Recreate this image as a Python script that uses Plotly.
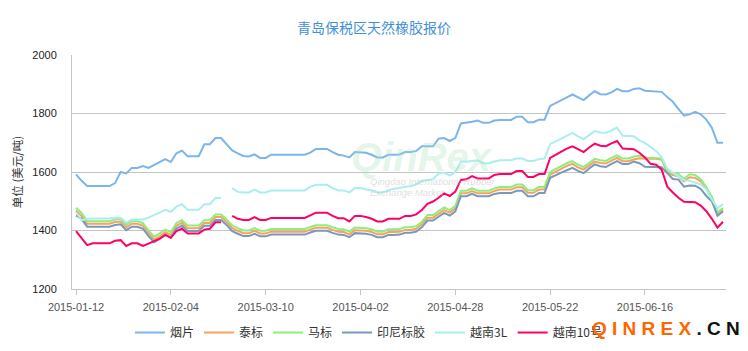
import pandas as pd
import plotly.graph_objects as go

# ---------------- data ----------------
holidays = ["2015-02-18", "2015-02-19", "2015-02-20", "2015-02-23", "2015-02-24",
            "2015-02-25", "2015-02-26", "2015-04-06", "2015-05-01", "2015-06-22"]
dates = [d.strftime("%Y-%m-%d") for d in pd.bdate_range("2015-01-12", "2015-07-07")
         if d.strftime("%Y-%m-%d") not in holidays]

series_names = ["烟片", "泰标", "马标", "印尼标胶", "越南3L", "越南10号"]

yanpian = [
    1592, 1570, 1552, 1552, 1552, 1552, 1552, 1562, 1600, 1595,
    1614, 1614, 1620, 1614, 1624, 1634, 1644, 1634, 1664, 1673,
    1654, 1654, 1654, 1695, 1695, 1716, 1716, 1695, 1674, 1664,
    1655, 1653, 1660, 1648, 1648, 1659, 1659, 1659, 1659, 1659,
    1659, 1659, 1666, 1679, 1679, 1679, 1668, 1659, 1656, 1650,
    1668, 1668, 1666, 1659, 1650, 1650, 1659, 1659, 1660, 1668,
    1668, 1672, 1688, 1688, 1688, 1714, 1716, 1706, 1716, 1766,
    1768, 1772, 1776, 1768, 1768, 1776, 1778, 1778, 1778, 1789,
    1789, 1770, 1770, 1779, 1779, 1826, 1835, 1845, 1855, 1865,
    1855, 1846, 1862, 1876, 1866, 1865, 1872, 1884, 1876, 1876,
    1884, 1886, 1878, 1876, 1876, 1874, 1856, 1840, 1816, 1793,
    1797, 1806, 1797, 1779, 1751, 1700, 1700]

taibiao = [
    1468, 1450, 1423, 1423, 1423, 1423, 1423, 1429, 1431, 1411,
    1423, 1423, 1416, 1391, 1369, 1380, 1394, 1385, 1417, 1426,
    1408, 1408, 1408, 1426, 1426, 1446, 1446, 1429, 1408, 1399,
    1391, 1391, 1399, 1390, 1390, 1396, 1396, 1396, 1396, 1396,
    1396, 1396, 1403, 1409, 1409, 1409, 1402, 1396, 1395, 1387,
    1401, 1401, 1399, 1395, 1387, 1387, 1395, 1395, 1396, 1402,
    1402, 1406, 1421, 1444, 1444, 1457, 1470, 1461, 1475, 1527,
    1527, 1535, 1527, 1527, 1527, 1535, 1540, 1540, 1540, 1548,
    1548, 1529, 1529, 1540, 1540, 1591, 1601, 1611, 1621, 1628,
    1616, 1608, 1623, 1636, 1631, 1629, 1639, 1648, 1637, 1637,
    1643, 1647, 1645, 1645, 1645, 1642, 1598, 1590, 1585, 1568,
    1582, 1580, 1568, 1545, 1512, 1458, 1472]

mabiao = [
    1478, 1460, 1432, 1432, 1432, 1432, 1432, 1438, 1440, 1420,
    1432, 1432, 1425, 1400, 1378, 1390, 1403, 1394, 1426, 1435,
    1417, 1417, 1417, 1435, 1435, 1455, 1455, 1438, 1417, 1408,
    1400, 1400, 1408, 1399, 1399, 1405, 1405, 1405, 1405, 1405,
    1405, 1405, 1412, 1418, 1418, 1418, 1411, 1405, 1404, 1396,
    1410, 1410, 1408, 1404, 1396, 1396, 1404, 1404, 1405, 1411,
    1411, 1415, 1430, 1453, 1453, 1466, 1479, 1470, 1484, 1536,
    1536, 1544, 1536, 1536, 1536, 1544, 1549, 1549, 1549, 1557,
    1557, 1538, 1538, 1549, 1549, 1600, 1610, 1620, 1630, 1637,
    1625, 1617, 1632, 1645, 1640, 1638, 1648, 1657, 1646, 1646,
    1652, 1656, 1650, 1648, 1648, 1646, 1606, 1596, 1594, 1576,
    1592, 1590, 1575, 1548, 1515, 1462, 1477]

yinni = [
    1452, 1440, 1413, 1413, 1413, 1413, 1413, 1419, 1421, 1401,
    1413, 1413, 1406, 1381, 1360, 1371, 1384, 1375, 1407, 1416,
    1398, 1398, 1398, 1416, 1416, 1436, 1436, 1419, 1398, 1389,
    1381, 1381, 1389, 1380, 1380, 1386, 1386, 1386, 1386, 1386,
    1386, 1386, 1393, 1399, 1399, 1399, 1392, 1386, 1385, 1377,
    1391, 1391, 1389, 1385, 1377, 1377, 1385, 1385, 1386, 1392,
    1392, 1396, 1411, 1434, 1434, 1447, 1460, 1451, 1465, 1517,
    1517, 1525, 1517, 1517, 1517, 1525, 1528, 1528, 1528, 1536,
    1536, 1517, 1517, 1528, 1528, 1580, 1590, 1598, 1606, 1614,
    1604, 1596, 1612, 1626, 1620, 1617, 1628, 1637, 1627, 1627,
    1636, 1630, 1618, 1617, 1617, 1616, 1596, 1576, 1574, 1550,
    1554, 1553, 1542, 1518, 1500, 1450, 1466]

yuenan3l = [
    1462, 1435, 1440, 1440, 1440, 1440, 1442, 1444, 1444, 1427,
    1438, 1438, 1438, 1444, 1452, 1461, 1471, 1464, 1482, 1490,
    1471, 1471, 1471, 1490, 1490, 1511, 1511, None, 1545, 1532,
    1530, 1530, 1540, 1530, 1530, 1537, 1537, 1537, 1537, 1537,
    1537, 1537, 1549, 1556, 1556, 1556, 1545, 1537, 1537, 1530,
    1545, 1545, 1540, 1537, 1530, 1530, 1537, 1543, 1545, 1550,
    1551, 1558, 1570, 1572, 1575, 1595, 1598, 1588, 1600, 1635,
    1635, 1638, 1640, 1630, 1630, 1636, 1640, 1640, 1640, 1646,
    1646, 1638, 1638, 1644, 1646, 1695, 1705, 1714, 1724, 1734,
    1722, 1712, 1726, 1740, 1735, 1734, 1742, 1752, 1724, 1722,
    1722, 1708, 1700, 1685, 1672, 1650, 1612, 1598, 1584, 1572,
    1570, 1564, 1558, 1540, 1505, 1476, 1490]

yuenan10 = [
    1398, 1375, 1350, 1356, 1356, 1356, 1356, 1365, 1367, 1347,
    1356, 1356, 1347, 1355, 1363, 1372, 1386, 1375, 1398, 1406,
    1390, 1390, 1390, 1403, 1406, 1428, 1428, None, 1450, 1440,
    1436, 1436, 1446, 1436, 1436, 1443, 1443, 1443, 1443, 1443,
    1443, 1443, 1452, 1461, 1461, 1461, 1450, 1442, 1442, 1431,
    1450, 1450, 1446, 1440, 1431, 1431, 1440, 1440, 1440, 1450,
    1450, 1455, 1470, 1491, 1499, 1512, 1527, 1518, 1533, 1573,
    1575, 1586, 1578, 1578, 1578, 1590, 1593, 1593, 1593, 1603,
    1603, 1583, 1583, 1593, 1593, 1648, 1660, 1670, 1680, 1688,
    1678, 1668, 1684, 1697, 1690, 1688, 1698, 1706, 1680, 1678,
    1678, 1666, 1650, 1628, 1625, 1608, 1550, 1530, 1512, 1498,
    1498, 1497, 1485, 1466, 1440, 1410, 1430]

series_values = [yanpian, taibiao, mabiao, yinni, yuenan3l, yuenan10]
series_colors = ["#7cb5ec", "#f7a35c", "#90ed7d", "#7798bf", "#aaeeee", "#ff0066"]

# ---------------- figure ----------------
fig = go.Figure()
for name, vals, col in zip(series_names, series_values, series_colors):
    fig.add_trace(go.Scatter(x=dates, y=vals, name=name, mode="lines",
                             line=dict(color=col, width=2), connectgaps=False))

grid = "#c4c4c4"
fig.update_layout(
    width=748, height=351,
    margin=dict(l=72, r=22, t=55, b=62, autoexpand=False),
    paper_bgcolor="white", plot_bgcolor="white",
    font=dict(family="Liberation Sans, Noto Sans CJK SC, sans-serif", size=11, color="#333"),
    title=dict(text="青岛保税区天然橡胶报价", x=0.5, xref="container", xanchor="center",
               y=1 - 28 / 351, yref="container", yanchor="middle",
               font=dict(family="Noto Sans CJK SC", size=14, color="#3f8fd9")),
    showlegend=True,
    legend=dict(orientation="h", x=0.454, xanchor="center", y=-0.186, yanchor="middle",
                font=dict(family="Noto Sans CJK SC", size=12, color="#333"),
                bgcolor="rgba(0,0,0,0)", itemwidth=30),
    xaxis=dict(type="category", range=[-0.72, 116.53], tickmode="linear", tick0=0, dtick=17,
               ticks="outside", ticklen=5, tickcolor=grid, showline=True, linecolor=grid,
               showgrid=False, zeroline=False, ticklabelstandoff=3, automargin=False,
               tickfont=dict(size=11, color="#555")),
    yaxis=dict(range=[1200, 2000], dtick=200, showgrid=True, gridcolor=grid, gridwidth=1,
               showline=True, linecolor=grid, zeroline=False, ticks="", automargin=False,
               ticklabelstandoff=12, tickfont=dict(size=11, color="#222"),
               title=dict(text="单位 (美元/吨)", standoff=7,
                          font=dict(family="Noto Sans CJK SC", size=11.5, color="#333"))),
)

# watermarks
fig.add_annotation(xref="paper", yref="paper", x=0.535, y=0.56, showarrow=False,
                   text="<b><i>QinRex</i></b>",
                   font=dict(family="Liberation Sans", size=40, color="rgba(170,225,190,0.33)"))
fig.add_annotation(xref="paper", yref="paper", x=0.453, y=0.46, xanchor="left", showarrow=False,
                   text="<i>Qingdao International Rubber</i>",
                   font=dict(family="Liberation Sans", size=9.5, color="rgba(190,190,190,0.5)"))
fig.add_annotation(xref="paper", yref="paper", x=0.453, y=0.413, xanchor="left", showarrow=False,
                   text="<i>Exchange Market</i>",
                   font=dict(family="Liberation Sans", size=9.5, color="rgba(190,190,190,0.5)"))
fig.add_annotation(xref="paper", yref="paper", x=1.0245, y=-0.167, xanchor="right", yanchor="middle",
                   showarrow=False,
                   text="<b><span style='color:#ff6600'>Q I N R E X</span> . C N</b>",
                   font=dict(family="Liberation Sans", size=19, color="#111"))

fig.write_html("out.html")
